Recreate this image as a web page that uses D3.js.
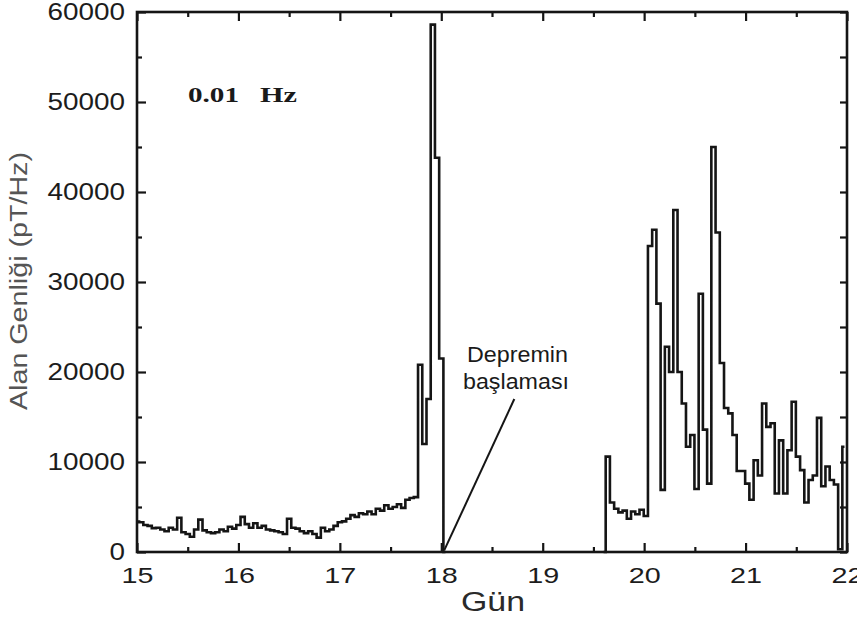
<!DOCTYPE html>
<html>
<head>
<meta charset="utf-8">
<script src="https://cdn.jsdelivr.net/npm/d3@7"></script>
<style>
  html, body { margin: 0; padding: 0; background: #fff; }
  svg { display: block; }
</style>
</head>
<body>
<svg id="chart" width="857" height="621"></svg>
<script>
// ---- data ----
const xTicks = [15, 16, 17, 18, 19, 20, 21, 22];
const xMinorTicks = [15.5, 16.5, 17.5, 18.5, 19.5, 20.5, 21.5];
const yTicks = [0, 10000, 20000, 30000, 40000, 50000, 60000];
const yMinorTicks = [5000, 15000, 25000, 35000, 45000, 55000];

// hourly samples before the quake (from day 15.0)
const beforeStart = 15.0;
const beforeValues = [
  3370, 3300, 3000, 2900, 2650, 2700, 2500, 2300, 2700, 2500, 3800, 2200,
  2000, 1700, 2500, 3600, 2400, 2200, 2100, 2200, 2500, 2300, 2800, 2600,
  3000, 3900, 3100, 2700, 3200, 2700, 2900, 2500, 2400, 2300, 2200, 2000,
  3700, 2700, 2600, 2300, 2100, 2300, 2000, 1600, 2700, 2300, 2500, 2900,
  3300, 3400, 3700, 4100, 3900, 4300, 4200, 4500, 4200, 4800, 4600, 5200,
  4800, 5000, 5300, 4900, 5800, 6000, 6100,
  20800, 12000, 17000, 58600, 43800, 21500, 0
];

// hourly samples after the data gap (from day 19.6)
const afterStart = 19.6;
const afterValues = [
  0, 10600, 5500, 4800, 4400, 4600, 3700, 4500, 4200, 4700, 4000,
  34000, 35800, 27600, 6900, 22800, 20000, 38000, 20000, 16500, 11700, 13000,
  7000, 28700, 13600, 7600, 45000, 35500, 21000, 16000, 15400, 13000,
  9000, 9000, 7600, 5800, 10200, 8500, 16500, 13900, 14300, 6500, 12400,
  6500, 11300, 16700, 10600, 9100, 5500, 8000, 8500, 14900, 7300, 9500,
  8000, 7500, 300, 11700
];
const stepDays = 1 / 24;

// annotation
const annotLines = ["Depremin", "başlaması"];
const annotFrom = [18.03, 200];
const annotTo = [18.72, 17000];

// ---- layout ----
const svg = d3.select("#chart");
const pLeft = 137, pRight = 847, pTop = 12, pBottom = 552;
const x = d3.scaleLinear().domain([15, 22]).range([pLeft, pRight]);
const y = d3.scaleLinear().domain([0, 60000]).range([pBottom, pTop]);

const ink = "#151515";
const sans = "'Liberation Sans', Arial, sans-serif";

// series
const toPts = (start, vals) => vals.map((v, i) => [start + i * stepDays, v]);
const line = d3.line().x(d => x(d[0])).y(d => y(d[1])).curve(d3.curveStep);
[toPts(beforeStart, beforeValues), toPts(afterStart, afterValues)].forEach(pts => {
  svg.append("path")
    .attr("d", line(pts))
    .attr("fill", "none")
    .attr("stroke", ink)
    .attr("stroke-width", 2.6)
    .attr("stroke-linejoin", "miter")
    .attr("stroke-miterlimit", 3);
});

// axes
function styleAxis(g) {
  g.select(".domain").remove();
  g.selectAll(".tick line").attr("stroke", ink).attr("stroke-width", 2.2);
}
function styleLabels(g, size, perChar) {
  g.selectAll("text")
    .attr("fill", "#1c1c1c")
    .style("font-family", sans)
    .style("font-size", size + "px")
    .attr("textLength", function () { return this.textContent.length * perChar; })
    .attr("lengthAdjust", "spacingAndGlyphs");
}

// bottom
svg.append("g").attr("transform", `translate(0,${pBottom})`)
  .call(d3.axisBottom(x).tickValues(xTicks).tickSize(-9).tickPadding(15).tickFormat(d3.format("d")))
  .call(styleAxis).call(g => styleLabels(g, 22, 16));
svg.append("g").attr("transform", `translate(0,${pBottom})`)
  .call(d3.axisBottom(x).tickValues(xMinorTicks).tickSize(-5).tickFormat(""))
  .call(styleAxis);
// top
svg.append("g").attr("transform", `translate(0,${pTop})`)
  .call(d3.axisTop(x).tickValues(xTicks).tickSize(-9).tickFormat(""))
  .call(styleAxis);
svg.append("g").attr("transform", `translate(0,${pTop})`)
  .call(d3.axisTop(x).tickValues(xMinorTicks).tickSize(-5).tickFormat(""))
  .call(styleAxis);
// left
svg.append("g").attr("transform", `translate(${pLeft},0)`)
  .call(d3.axisLeft(y).tickValues(yTicks).tickSize(-9).tickPadding(12).tickFormat(d3.format("d")))
  .call(styleAxis).call(g => styleLabels(g, 23, 15.5));
svg.append("g").attr("transform", `translate(${pLeft},0)`)
  .call(d3.axisLeft(y).tickValues(yMinorTicks).tickSize(-5).tickFormat(""))
  .call(styleAxis);
// right
svg.append("g").attr("transform", `translate(${pRight},0)`)
  .call(d3.axisRight(y).tickValues(yTicks.concat(yMinorTicks)).tickSize(-7).tickFormat(""))
  .call(styleAxis);

// frame
svg.append("rect")
  .attr("x", pLeft).attr("y", pTop)
  .attr("width", pRight - pLeft).attr("height", pBottom - pTop)
  .attr("fill", "none").attr("stroke", ink).attr("stroke-width", 2.6);

// frequency label
svg.append("text").attr("x", 188).attr("y", 102)
  .text("0.01")
  .attr("textLength", 51).attr("lengthAdjust", "spacingAndGlyphs")
  .style("font-family", "'Liberation Serif', 'Times New Roman', serif")
  .style("font-weight", "bold").style("font-size", "21px").attr("fill", "#1a1a1a");
svg.append("text").attr("x", 260).attr("y", 102)
  .text("Hz")
  .attr("textLength", 37).attr("lengthAdjust", "spacingAndGlyphs")
  .style("font-family", "'Liberation Serif', 'Times New Roman', serif")
  .style("font-weight", "bold").style("font-size", "21px").attr("fill", "#1a1a1a");

// annotation
svg.append("line")
  .attr("x1", x(annotFrom[0])).attr("y1", y(annotFrom[1]))
  .attr("x2", x(annotTo[0])).attr("y2", y(annotTo[1]))
  .attr("stroke", ink).attr("stroke-width", 2);
svg.append("text").attr("x", 467).attr("y", 362).text(annotLines[0])
  .attr("textLength", 101).attr("lengthAdjust", "spacingAndGlyphs")
  .style("font-family", sans).style("font-size", "22px").attr("fill", "#1a1a1a");
svg.append("text").attr("x", 463).attr("y", 389).text(annotLines[1])
  .attr("textLength", 106).attr("lengthAdjust", "spacingAndGlyphs")
  .style("font-family", sans).style("font-size", "22px").attr("fill", "#1a1a1a");

// axis titles
svg.append("text")
  .attr("transform", "translate(27,281) rotate(-90)")
  .attr("text-anchor", "middle")
  .text("Alan Genliği (pT/Hz)")
  .attr("textLength", 258).attr("lengthAdjust", "spacingAndGlyphs")
  .style("font-family", sans).style("font-size", "23px").attr("fill", "#555");
svg.append("text")
  .attr("x", 493).attr("y", 611)
  .attr("text-anchor", "middle")
  .text("Gün")
  .attr("textLength", 64).attr("lengthAdjust", "spacingAndGlyphs")
  .style("font-family", sans).style("font-size", "27px").attr("fill", "#2a2a2a");
</script>
</body>
</html>
